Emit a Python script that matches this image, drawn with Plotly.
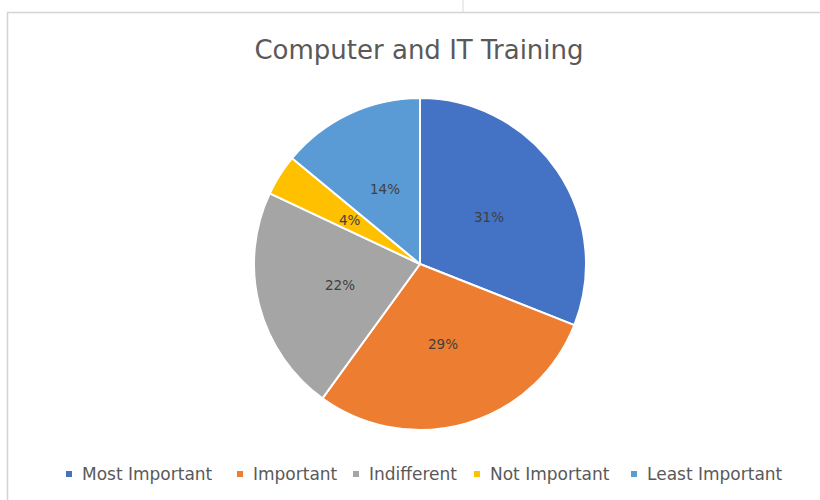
import numpy as np
import plotly.graph_objects as go

# Survey shares for "Computer and IT Training"
categories = ["Most Important", "Important", "Indifferent", "Not Important", "Least Important"]
shares = [31, 29, 22, 4, 14]
colors = ["#4472C4", "#ED7D31", "#A5A5A5", "#FFC000", "#5B9BD5"]

W, H = 820, 500
cx, cy, r = 420, 264, 166
FONT = "DejaVu Sans"

fig = go.Figure(
    go.Pie(
        labels=categories,
        values=shares,
        sort=False,
        direction="clockwise",
        rotation=0,
        marker=dict(colors=colors, line=dict(color="white", width=2)),
        textinfo="none",
        hoverinfo="label+percent",
        showlegend=False,
        domain=dict(x=[(cx - r) / W, (cx + r) / W], y=[1 - (cy + r) / H, 1 - (cy - r) / H]),
    )
)

# Data labels at half radius on each slice's mid-angle (clockwise from 12 o'clock)
vals = np.array(shares, dtype=float)
mid = (np.cumsum(vals) - vals / 2) / vals.sum() * 2 * np.pi
annotations = []
for v, a in zip(shares, mid):
    annotations.append(dict(
        x=(cx + 0.5 * r * np.sin(a)) / W,
        y=1 - (cy - 0.5 * r * np.cos(a)) / H,
        xref="paper", yref="paper", xanchor="center", yanchor="middle",
        text=f"{v}%", showarrow=False,
        font=dict(family=FONT, size=13.5, color="#404040"),
    ))

# Legend row: small square key followed by the category name
legend_x = [65, 236, 352, 473, 630]
shapes = []
for name, col, lx in zip(categories, colors, legend_x):
    shapes.append(dict(type="rect", xref="paper", yref="paper",
                       x0=(lx + 1) / W, x1=(lx + 7) / W,
                       y0=1 - 477 / H, y1=1 - 471 / H,
                       fillcolor=col, line=dict(width=0)))
    annotations.append(dict(
        x=(lx + 15) / W, y=1 - 473.5 / H, xref="paper", yref="paper",
        xanchor="left", yanchor="middle", text=name, showarrow=False,
        font=dict(family=FONT, size=17, color="#595959"),
    ))

# Chart-area frame and sheet gridline above it
shapes += [
    dict(type="line", xref="paper", yref="paper", x0=7 / W, x1=1, y0=1 - 12.5 / H, y1=1 - 12.5 / H,
         line=dict(color="#D4D4D4", width=1.5)),
    dict(type="line", xref="paper", yref="paper", x0=7.5 / W, x1=7.5 / W, y0=0, y1=1 - 12 / H,
         line=dict(color="#D4D4D4", width=1.5)),
    dict(type="line", xref="paper", yref="paper", x0=463 / W, x1=463 / W, y0=1 - 12 / H, y1=1,
         line=dict(color="#DADADA", width=1)),
]

fig.update_layout(
    width=W,
    height=H,
    margin=dict(l=0, r=0, t=0, b=0),
    paper_bgcolor="white",
    plot_bgcolor="white",
    title=dict(
        text="Computer and IT Training",
        x=419 / W,
        xanchor="center",
        y=1 - 50 / H,
        yanchor="middle",
        font=dict(family=FONT, size=26, color="#595959"),
    ),
    annotations=annotations,
    shapes=shapes,
)

fig.write_html("out.html")
